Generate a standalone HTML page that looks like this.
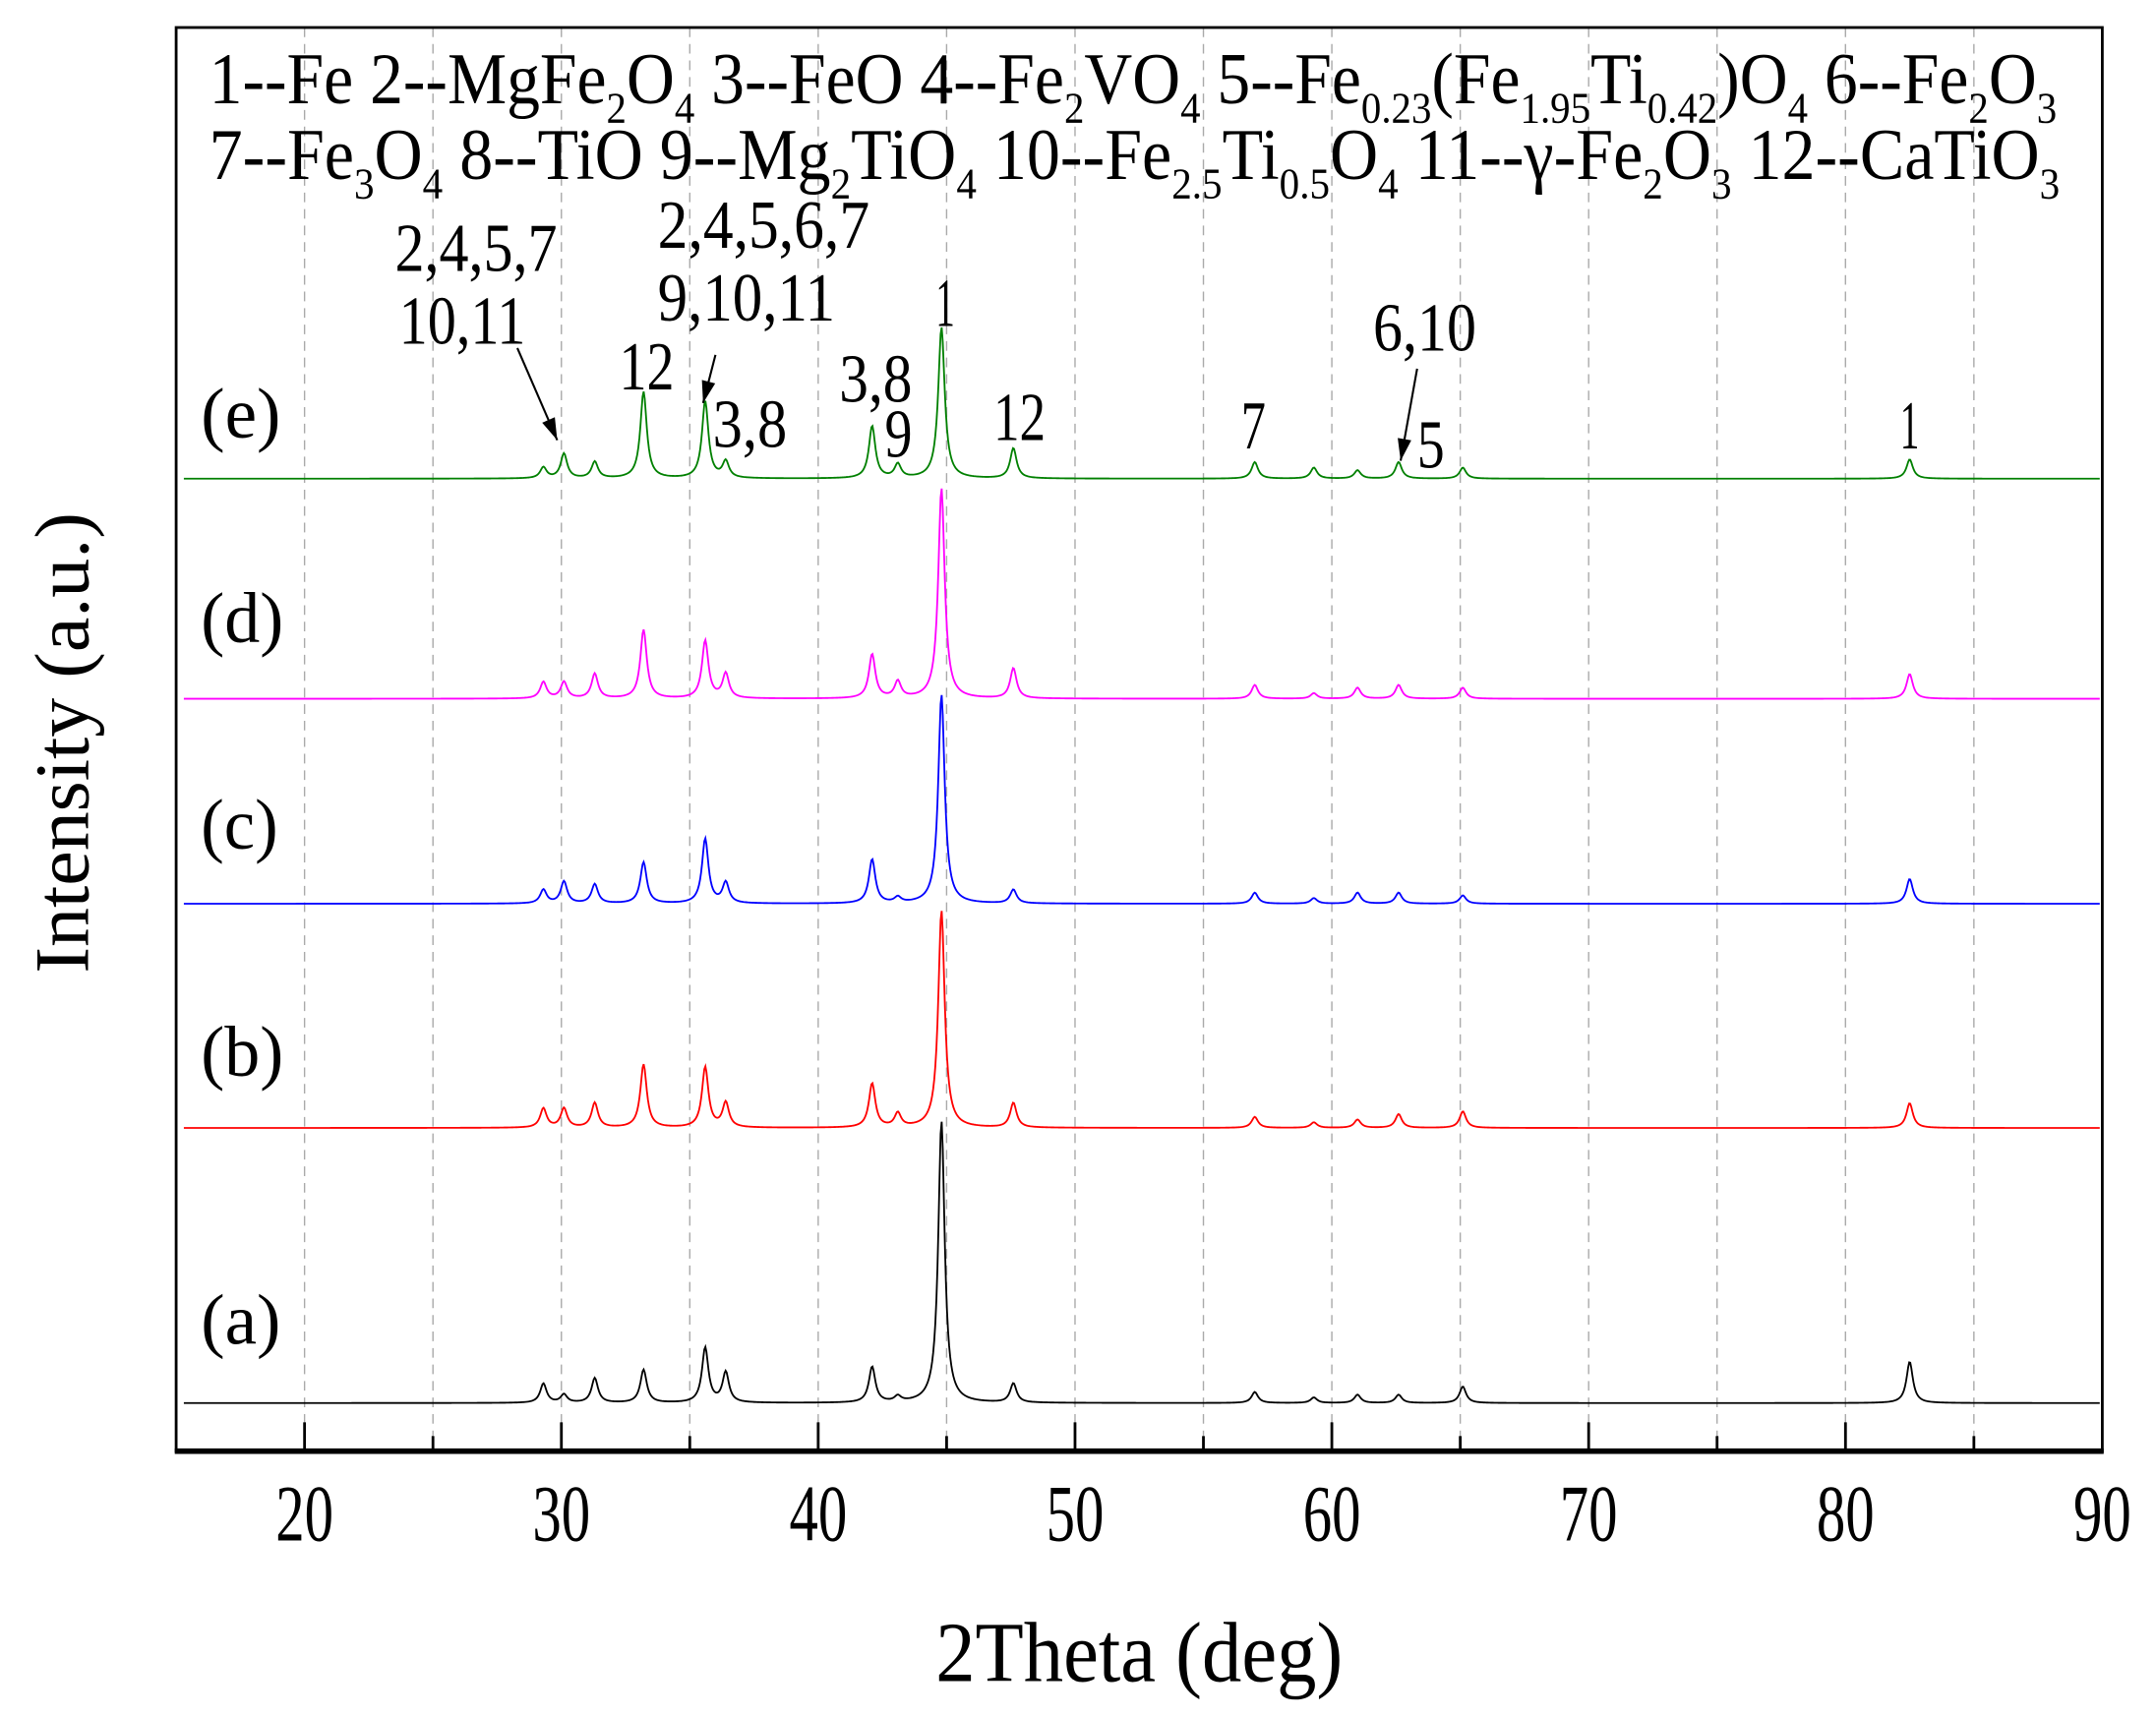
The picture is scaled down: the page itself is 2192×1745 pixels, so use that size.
<!DOCTYPE html>
<html><head><meta charset="utf-8"><style>
html,body{margin:0;padding:0;background:#fff}
svg{display:block}
text{font-family:"Liberation Serif",serif;fill:#000}
</style></head><body>
<svg id="chart" width="2192" height="1745" viewBox="0 0 1567 1247.5" xmlns="http://www.w3.org/2000/svg">
<g id="grid"></g>
<g id="series"></g>
<g id="axes"></g>
<g id="ann"></g>
</svg>
<script>
// ---- data ----
const peakPos = [29.3,30.1,31.3,33.2,35.6,36.4,42.1,43.1,44.8,47.6,57.0,59.3,61.0,62.6,65.1,82.5];
const seriesNames = ['a','b','c','d','e'];
const seriesColors = ['#000000','#ff0000','#0000ff','#ff00ff','#008000'];
const baseA = 1020, baseB = 820, baseC = 657, baseD = 508, baseE = 348;
const heightsA = [14,6,18,24,40,22,26,4,205,14,8,4,6,6,12,30];
const heightsB = [14,14,18,46,44,18,32,10,158,18,8,4,6,10,12,18];
const heightsC = [10,16,14,30,47,15,32,4,152,10,8,4,8,8,6,18];
const heightsD = [12,12,18,50,42,18,32,12,153,22,10,4,8,10,8,18];
const heightsE = [8,18,12,63,56,12,38,10,110,22,12,8,6,12,8,14];
const xTicks = [20,30,40,50,60,70,80,90];
const minorTicks = [25,35,45,55,65,75,85];

const X0=15,X1=90,PX0=128,PX1=1528,PY0=20,PY1=1055;
const sx = v => PX0+(v-X0)*(PX1-PX0)/(X1-X0);
const NS='http://www.w3.org/2000/svg';
function mk(tag,attrs,parent){const e=document.createElementNS(NS,tag);for(const k in attrs)e.setAttribute(k,attrs[k]);parent.appendChild(e);return e;}
function fitW(e,target,anchorX){const w=e.getComputedTextLength();if(w>0){const k=target/w;e.setAttribute('transform',`translate(${anchorX},0) scale(${k},1) translate(${-anchorX},0)`);}}

const grid=document.getElementById('grid');
for(const v of xTicks.concat(minorTicks)){ if(v>=90)continue;
  const l=mk('line',{x1:sx(v),x2:sx(v),y1:PY0,y2:PY1,stroke:'#aaa','stroke-width':1,'stroke-dasharray':'7,5'},grid);
  
  
}

const ser=document.getElementById('series');
const bases=[baseA,baseB,baseC,baseD,baseE];
const hs=[heightsA,heightsB,heightsC,heightsD,heightsE];
for(let s=0;s<5;s++){
  let d='';
  for(let i=0;i<=1800;i++){
    const x=X0+0.3+i*(74.6/1800);
    let y=0;
    for(let p=0;p<peakPos.length;p++){const w=0.15;const t=(x-peakPos[p])/w;y+=hs[s][p]/(1+t*t);}
    d+=(i?'L':'M')+sx(x).toFixed(2)+','+(bases[s]-y).toFixed(2);
  }
  const path=mk('path',{d:d,fill:'none',stroke:seriesColors[s],'stroke-width':1.3},ser);
  
  
}

const ax=document.getElementById('axes');
const frame=mk('rect',{x:PX0,y:PY0,width:PX1-PX0,height:PY1-PY0,fill:'none',stroke:'#000','stroke-width':2},ax);


const xa=mk('line',{x1:PX0-1,x2:PX1+1,y1:PY1,y2:PY1,stroke:'#000','stroke-width':4},ax);


for(const v of xTicks){
  if(v<90){const t=mk('line',{x1:sx(v),x2:sx(v),y1:PY1,y2:PY1-21,stroke:'#000','stroke-width':2},ax);
  
  }
  const lb=mk('text',{x:sx(v),y:1120,'text-anchor':'middle','font-size':58},ax);
  lb.textContent=v;
  
  
  fitW(lb,42,sx(v));
}
for(const v of minorTicks){
  const t=mk('line',{x1:sx(v),x2:sx(v),y1:PY1,y2:PY1-11,stroke:'#000','stroke-width':2},ax);
  
  
}
</script>
<script>
// ---- annotations ----
const ann=document.getElementById('ann');
function txt(s,x,y,size,len,name,anchor){
  const e=document.createElementNS(NS,'text');
  e.setAttribute('x',x);e.setAttribute('y',y);e.setAttribute('font-size',size);
  if(anchor)e.setAttribute('text-anchor',anchor);
  e.innerHTML=s;
  
  
  ann.appendChild(e);
  if(len) fitW(e,len,x);
  return e;
}
const sb=(t)=>`<tspan baseline-shift="-14" font-size="32">${t}</tspan>`;
txt('1--Fe 2--MgFe'+sb('2')+'O'+sb('4')+' 3--FeO 4--Fe'+sb('2')+'VO'+sb('4')+'  5--Fe'+sb('0.23')+'(Fe'+sb('1.95')+'Ti'+sb('0.42')+')O'+sb('4')+' 6--Fe'+sb('2')+'O'+sb('3'),152,75,53,1343,'phase-legend-line-1');
txt('7--Fe'+sb('3')+'O'+sb('4')+' 8--TiO  9--Mg'+sb('2')+'TiO'+sb('4')+'  10--Fe'+sb('2.5')+'Ti'+sb('0.5')+'O'+sb('4')+' 11--γ-Fe'+sb('2')+'O'+sb('3')+' 12--CaTiO'+sb('3'),152,130,53,1345,'phase-legend-line-2');
txt('2,4,5,7',287,197,50,118,'peak-label');
txt('10,11',290,250,50,92,'peak-label');
txt('2,4,5,6,7',478,180,50,154,'peak-label');
txt('9,10,11',478,233,50,129,'peak-label');
txt('12',450,283,50,40,'peak-label');
txt('1',680,237,50,14,'peak-label');
txt('3,8',518,325,50,54,'peak-label');
txt('3,8',610,292,50,53,'peak-label');
txt('9',643,332,50,20,'peak-label');
txt('12',722,320,50,38,'peak-label');
txt('7',902,326,50,18,'peak-label');
txt('6,10',998,255,50,75,'peak-label');
txt('5',1030,340,50,20,'peak-label');
txt('1',1381,326,50,14,'peak-label');
txt('(e)',146,318,52,58,'series-label-e');
txt('(d)',146,467,52,60,'series-label-d');
txt('(c)',146,617,52,56,'series-label-c');
txt('(b)',146,782,52,60,'series-label-b');
txt('(a)',146,977,52,58,'series-label-a');
txt('2Theta (deg)',680,1222,62,296,'x-axis-title');
const yt=document.createElementNS(NS,'text');
yt.setAttribute('x',0);yt.setAttribute('y',0);yt.setAttribute('font-size',56);yt.setAttribute('text-anchor','middle');
yt.textContent='Intensity (a.u.)';


ann.appendChild(yt);
(function(){const w=yt.getComputedTextLength();const k=w>0?335/w:1;yt.setAttribute('transform',`translate(64,540) rotate(-90) scale(${k},1)`);})();
function arrow(x1,y1,x2,y2){
  const l=document.createElementNS(NS,'line');
  l.setAttribute('x1',x1);l.setAttribute('y1',y1);l.setAttribute('x2',x2);l.setAttribute('y2',y2);
  l.setAttribute('stroke','#000');l.setAttribute('stroke-width',1.5);
  
  
  ann.appendChild(l);
  const a=Math.atan2(y2-y1,x2-x1),L=16,W=5;
  const bx=x2-L*Math.cos(a),by=y2-L*Math.sin(a);
  const p=document.createElementNS(NS,'polygon');
  p.setAttribute('points',`${x2},${y2} ${bx+W*Math.sin(a)},${by-W*Math.cos(a)} ${bx-W*Math.sin(a)},${by+W*Math.cos(a)}`);
  p.setAttribute('fill','#000');
  
  
  ann.appendChild(p);
}
arrow(376,253,405,320);
arrow(520,258,511,293);
arrow(1030,268,1018,335);
</script>
</body></html>
